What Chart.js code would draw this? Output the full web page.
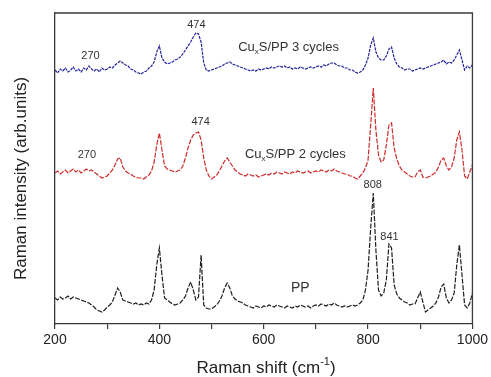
<!DOCTYPE html>
<html>
<head>
<meta charset="utf-8">
<script src="https://cdn.jsdelivr.net/npm/chart.js@4"></script>
<style>
  html, body { margin: 0; padding: 0; background: #fff; }
  #wrap { width: 491px; height: 377px; }
</style>
</head>
<body>
<div id="wrap"><canvas id="raman" width="491" height="377"></canvas></div>
<script>
// Raman shift (cm-1), every 5 cm-1
const shift = [
  200,205,210,215,220,225,230,235,240,245,250,255,260,265,270,275,280,285,290,295,
  300,305,310,315,320,325,330,335,340,345,350,355,360,365,370,375,380,385,390,395,
  400,405,410,415,420,425,430,435,440,445,450,455,460,465,470,475,480,485,490,495,
  500,505,510,515,520,525,530,535,540,545,550,555,560,565,570,575,580,585,590,595,
  600,605,610,615,620,625,630,635,640,645,650,655,660,665,670,675,680,685,690,695,
  700,705,710,715,720,725,730,735,740,745,750,755,760,765,770,775,780,785,790,795,
  800,805,810,815,820,825,830,835,840,845,850,855,860,865,870,875,880,885,890,895,
  900,905,910,915,920,925,930,935,940,945,950,955,960,965,970,975,980,985,990,995,
  1000
];

// CuxS/PP 3 cycles (offset trace, arb. units)
const cycles3 = [
  254,251,255,253,256,252,254,257,253,255,252,256,254,258,255,253,255,252,256,254,
  255,257,256,259,261,263,261,259,258,255,254,252,251,250,252,253,256,258,262,272,
  278,266,262,260,261,262,264,265,267,270,274,278,282,287,291,290,282,261,254,253,
  254,255,256,257,258,260,261,262,260,259,258,257,256,255,254,253,254,253,255,254,
  255,256,255,257,256,257,258,257,258,256,257,255,256,255,257,256,255,256,257,256,
  257,258,257,259,258,260,261,261,259,258,258,256,256,254,254,252,251,252,254,259,
  266,279,286,272,266,264,264,268,275,277,266,260,257,256,254,255,255,253,254,255,
  256,255,256,257,258,259,260,261,262,264,260,262,261,264,269,274,264,254,258,256,
  259
];

// CuxS/PP 2 cycles
const cycles2 = [
  151,153,150,152,154,151,153,155,152,154,151,153,155,153,154,152,150,148,146,147,
  148,151,154,159,165,166,157,153,151,150,148,147,146,146,145,147,149,153,162,179,
  191,174,158,155,154,153,152,153,154,158,166,176,184,189,191,192,184,166,154,148,
  145,147,149,153,158,163,166,162,158,154,152,150,149,148,150,149,148,149,147,148,
  149,150,149,151,150,152,151,150,152,151,150,152,151,153,152,151,152,153,151,152,
  153,152,154,153,152,154,153,155,153,152,151,150,150,148,148,146,145,148,151,156,
  164,199,236,194,169,162,164,179,199,201,176,165,158,154,152,150,148,147,147,152,
  154,147,146,147,148,150,152,157,164,166,158,154,157,166,184,192,174,148,145,152,
  159
];

// PP
const pp = [
  26,24,27,25,26,28,25,27,26,25,24,23,22,21,19,17,14,13,12,14,
  17,19,22,29,36,32,24,23,22,21,20,21,19,20,19,21,20,24,34,59,
  76,49,26,24,22,20,19,20,21,24,28,36,42,34,24,27,69,19,16,15,
  15,17,19,23,28,36,41,36,28,25,23,22,21,19,18,17,16,18,17,16,
  18,17,19,18,17,19,18,17,16,18,17,16,18,17,19,18,17,18,16,18,
  19,18,20,19,18,20,19,21,19,18,17,18,17,18,19,18,19,21,24,34,
  54,96,131,74,34,28,31,44,80,76,39,30,26,24,22,21,19,20,20,26,
  32,22,12,14,16,18,21,27,37,40,26,21,24,31,59,79,49,19,16,21,
  31
];

const xTicks = [200, 400, 600, 800, 1000];

// peak labels and trace names, placed in data coordinates
const notes = [
  { text: '474', x: 471, y: 299 },
  { text: '270', x: 268, y: 268 },
  { text: '474', x: 479, y: 202 },
  { text: '270', x: 261, y: 169 },
  { text: '808', x: 809, y: 139 },
  { text: '841', x: 841, y: 87 },
  { text: 'PP', x: 670, y: 36, big: true }
];
const names = [
  { text: ' cycles', n: '3', x: 551, y: 277 },
  { text: ' cycles', n: '2', x: 564, y: 170 }
];

const toPts = arr => arr.map((v, i) => ({ x: shift[i], y: v }));

const FONT = '"Liberation Sans", Arial, sans-serif';

const textPlugin = {
  id: 'texts',
  afterDraw(chart) {
    const { ctx, scales: { x, y }, chartArea: a } = chart;
    ctx.save();
    // frame top + right
    ctx.strokeStyle = '#3a3a3a';
    ctx.lineWidth = 1.3;
    ctx.beginPath();
    ctx.moveTo(a.left, a.top);
    ctx.lineTo(a.right, a.top);
    ctx.lineTo(a.right, a.bottom);
    ctx.stroke();

    ctx.fillStyle = '#333';
    ctx.textBaseline = 'middle';
    notes.forEach(n => {
      ctx.font = (n.big ? '14px ' : '11px ') + FONT;
      ctx.textAlign = 'center';
      ctx.fillText(n.text, x.getPixelForValue(n.x), y.getPixelForValue(n.y));
    });

    names.forEach(n => {
      let px = x.getPixelForValue(n.x);
      const py = y.getPixelForValue(n.y);
      ctx.textAlign = 'left';
      ctx.font = '13px ' + FONT;
      ctx.fillText('Cu', px, py);
      px += ctx.measureText('Cu').width;
      ctx.font = '8px ' + FONT;
      ctx.fillText('x', px, py + 5);
      px += ctx.measureText('x').width;
      ctx.font = '13px ' + FONT;
      ctx.fillText('S/PP ' + n.n + n.text, px, py);
    });

    // x axis title with superscript
    ctx.fillStyle = '#222';
    const p1 = 'Raman shift (cm', p3 = ')';
    ctx.font = '11px ' + FONT;
    const w2 = ctx.measureText('-1').width;
    ctx.font = '17px ' + FONT;
    const w1 = ctx.measureText(p1).width, w3 = ctx.measureText(p3).width;
    const sx = 266 - (w1 + w2 + w3) / 2;
    ctx.textAlign = 'left';
    ctx.fillText(p1, sx, 368);
    ctx.font = '11px ' + FONT;
    ctx.fillText('-1', sx + w1, 362);
    ctx.font = '17px ' + FONT;
    ctx.fillText(p3, sx + w1 + w2, 368);

    // y axis title
    ctx.translate(21, 178.5);
    ctx.rotate(-Math.PI / 2);
    ctx.textAlign = 'center';
    ctx.fillText('Raman intensity (arb.units)', 0, 0);
    ctx.restore();
  }
};

new Chart(document.getElementById('raman').getContext('2d'), {
  type: 'line',
  data: {
    datasets: [
      { label: 'CuxS/PP 3 cycles', data: toPts(cycles3), borderColor: '#24249a', borderWidth: 1.2, borderDash: [3, 1] },
      { label: 'CuxS/PP 2 cycles', data: toPts(cycles2), borderColor: '#cc2a2a', borderWidth: 1.2, borderDash: [5, 1.5] },
      { label: 'PP', data: toPts(pp), borderColor: '#1e1e1e', borderWidth: 1.2, borderDash: [5, 1.5] }
    ]
  },
  options: {
    responsive: false,
    animation: false,
    events: [],
    elements: { point: { radius: 0 }, line: { tension: 0 } },
    layout: { autoPadding: false, padding: { left: 0, right: 14, top: 13, bottom: 0 } },
    plugins: { legend: { display: false }, tooltip: { enabled: false } },
    scales: {
      x: {
        type: 'linear',
        min: 200,
        max: 1000,
        afterFit: s => { s.height = 53; },
        border: { display: true, color: '#3a3a3a', width: 1.3 },
        grid: { drawOnChartArea: false, drawTicks: true, tickLength: 5, color: '#3a3a3a', lineWidth: 1.2 },
        ticks: {
          stepSize: 100,
          autoSkip: false,
          maxRotation: 0,
          padding: 3,
          color: '#222',
          font: { family: FONT, size: 14 },
          callback: v => xTicks.includes(v) ? String(v) : ''
        }
      },
      y: {
        min: 0,
        max: 311,
        afterFit: s => { s.width = 55; },
        border: { display: true, color: '#3a3a3a', width: 1.3 },
        grid: { drawOnChartArea: false, drawTicks: false },
        ticks: { display: false }
      }
    }
  },
  plugins: [textPlugin]
});
</script>
</body>
</html>
